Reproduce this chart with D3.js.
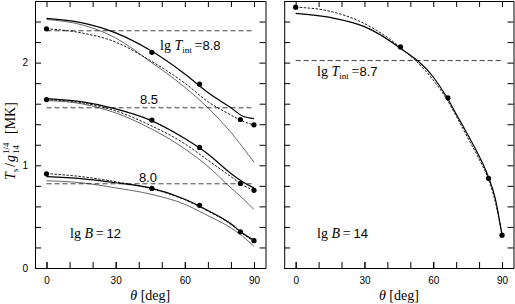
<!DOCTYPE html>
<html>
<head>
<meta charset="utf-8">
<script src="https://cdn.jsdelivr.net/npm/d3@7"></script>
<style>
body { margin: 0; background: #fff; }
svg { display: block; }
.tick text { font-family: "Liberation Sans", Arial, sans-serif; font-size: 10px; fill: #000; }
.tick line, .domain { stroke: #000; }
</style>
</head>
<body>
<svg width="515" height="304"></svg>
<script>
// dots (computed models)
const dotTheta = [0, 45.7, 66.4, 84.1, 90];
const dots88 = [2.33, 2.10, 1.79, 1.446, 1.394];
const dots85 = [1.64, 1.44, 1.174, 0.824, 0.756];
const dots80 = [0.917, 0.775, 0.61, 0.353, 0.266];
const dots87 = [2.54, 2.153, 1.657, 0.873, 0.32];

// curves, lg B = 12
const thetaL = [0, 15, 30, 45, 60, 70, 80, 85, 90];
const solid88 = [2.43, 2.39, 2.29, 2.12, 1.89, 1.71, 1.56, 1.48, 1.455];
const dash88 = [2.33, 2.29, 2.20, 2.02, 1.80, 1.62, 1.49, 1.43, 1.394];
const thin88 = [2.42, 2.37, 2.24, 2.01, 1.76, 1.56, 1.32, 1.18, 1.03];
const solid85 = [1.65, 1.62, 1.55, 1.44, 1.26, 1.11, 0.92, 0.84, 0.78];
const dash85 = [1.64, 1.61, 1.53, 1.39, 1.21, 1.05, 0.89, 0.81, 0.756];
const thin85 = [1.63, 1.60, 1.51, 1.36, 1.16, 0.99, 0.78, 0.68, 0.57];
const solid80 = [0.89, 0.87, 0.83, 0.78, 0.67, 0.56, 0.43, 0.34, 0.27];
const dash80 = [0.92, 0.89, 0.84, 0.775, 0.665, 0.555, 0.425, 0.335, 0.26];
const thin80 = [0.85, 0.83, 0.78, 0.72, 0.62, 0.51, 0.39, 0.31, 0.21];

// curves, lg B = 14
const thetaR = [0, 15, 30, 45, 60, 66, 70, 75, 80, 84, 87, 90];
const solid87 = [2.48, 2.44, 2.35, 2.15, 1.86, 1.66, 1.50, 1.30, 1.09, 0.89, 0.68, 0.32];
const dash87 = [2.54, 2.50, 2.38, 2.16, 1.83, 1.64, 1.48, 1.27, 1.06, 0.87, 0.65, 0.32];

// lg T_int levels
const tint12 = [2.31, 1.56, 0.82];
const tint14 = [2.02];

const xTicks = [0, 30, 60, 90];
const xMinor = [0, 10, 20, 30, 40, 50, 60, 70, 80, 90];
const yTicks = [0, 1, 2];
const yMinor = d3.range(0, 2.61, 0.2);

const svg = d3.select("svg");
const serif = "Liberation Serif, Times New Roman, serif";
const sans = "Liberation Sans, Arial, sans-serif";

const y = d3.scaleLinear().domain([0, 2.6]).range([268, 1]);

function panel(left, right, curves, dots, tints, labelB, tintLabel, tintText, showY) {
    var x = d3.scaleLinear().domain([-5, 95]).range([left, right]);
    var g = svg.append("g");

    g.append("g").attr("transform", "translate(0,268)")
        .call(d3.axisBottom(x).tickValues(xMinor).tickSizeInner(-6).tickSizeOuter(0).tickFormat(""));
    g.append("g").attr("transform", "translate(0,268)")
        .call(d3.axisBottom(x).tickValues(xTicks).tickSizeInner(-6).tickSizeOuter(0).tickPadding(9));
    g.append("g").attr("transform", "translate(0,1)")
        .call(d3.axisTop(x).tickValues(xMinor).tickSizeInner(-6).tickSizeOuter(0).tickFormat(""));
    g.append("g").attr("transform", "translate(" + left + ",0)")
        .call(d3.axisLeft(y).tickValues(yMinor).tickSizeInner(-6).tickSizeOuter(0).tickFormat(""));
    if (showY) {
        g.append("g").attr("transform", "translate(" + left + ",0)")
            .call(d3.axisLeft(y).tickValues(yTicks).tickSizeInner(0).tickSizeOuter(0).tickPadding(7).tickFormat(d3.format("d")))
            .select(".domain").remove();
    }
    g.append("g").attr("transform", "translate(" + right + ",0)")
        .call(d3.axisRight(y).tickValues(yMinor).tickSizeInner(-6).tickSizeOuter(0).tickFormat(""));

    // T_int reference lines
    g.selectAll(".tint").data(tints).enter().append("line")
        .attr("x1", x(0)).attr("x2", x(90))
        .attr("y1", d => y(d)).attr("y2", d => y(d))
        .attr("stroke", "#444").attr("stroke-width", 1)
        .attr("stroke-dasharray", "5,3");

    var line = d3.line().curve(d3.curveMonotoneX);
    curves.forEach(function(c) {
        g.append("path")
            .attr("d", line(c.th.map((t, i) => [x(t), y(c.v[i])])))
            .attr("fill", "none").attr("stroke", "#000")
            .attr("stroke-width", c.w)
            .attr("stroke-dasharray", c.dash || null);
    });

    dots.forEach(function(ds) {
        g.selectAll(null).data(ds).enter().append("circle")
            .attr("cx", (d, i) => x(dotTheta[i]))
            .attr("cy", d => y(d))
            .attr("r", 2.6).attr("fill", "#000");
    });

    // x label
    var xl = g.append("text").attr("x", x(45)).attr("y", 300)
        .attr("text-anchor", "middle").attr("font-family", serif).attr("font-size", 14);
    xl.append("tspan").attr("font-style", "italic").text("\u03b8");
    xl.append("tspan").text(" [deg]");

    // lg B label
    var bl = g.append("text").attr("x", labelB[0]).attr("y", labelB[1])
        .attr("font-family", serif).attr("font-size", 14);
    bl.append("tspan").text("lg ");
    bl.append("tspan").attr("font-style", "italic").text("B");
    bl.append("tspan").text("\u2009=\u2009");
    bl.append("tspan").attr("font-family", sans).attr("font-size", 13).text(labelB[2]);

    // T_int label
    var tl = g.append("text").attr("x", tintLabel[0]).attr("y", tintLabel[1])
        .attr("font-family", serif).attr("font-size", 14);
    tl.append("tspan").text("lg ");
    tl.append("tspan").attr("font-style", "italic").text("T");
    tl.append("tspan").attr("dy", 3).attr("font-size", 9).text("int");
    tl.append("tspan").attr("dy", -3).text("\u2009=");
    tl.append("tspan").attr("font-family", sans).attr("font-size", 13).text(tintText);

    return x;
}

var xL = panel(35, 265.5, [
    {th: thetaL, v: solid88, w: 1.2}, {th: thetaL, v: dash88, w: 0.9, dash: "2.5,1.5"}, {th: thetaL, v: thin88, w: 0.6},
    {th: thetaL, v: solid85, w: 1.2}, {th: thetaL, v: dash85, w: 0.9, dash: "2.5,1.5"}, {th: thetaL, v: thin85, w: 0.6},
    {th: thetaL, v: solid80, w: 1.2}, {th: thetaL, v: dash80, w: 0.9, dash: "2.5,1.5"}, {th: thetaL, v: thin80, w: 0.6}
], [dots88, dots85, dots80], tint12, [70, 238, "12"], [160, 50], "8.8", true);

var xR = panel(284.2, 513.5, [
    {th: thetaR, v: solid87, w: 1.2}, {th: thetaR, v: dash87, w: 0.9, dash: "2.5,1.5"}
], [dots87], tint14, [317, 238, "14"], [317, 76], "8.7", false);

// T_int labels for the lower groups
[["8.5", 140, 104], ["8.0", 139, 182]].forEach(function(t) {
    svg.append("text").attr("x", t[1]).attr("y", t[2])
        .attr("font-family", sans).attr("font-size", 13).text(t[0]);
});

// y label, laid out along the rotated baseline
var yl = svg.append("g").attr("transform", "translate(15,137) rotate(-90)")
    .attr("font-family", serif);
yl.append("text").attr("x", -43).attr("y", 0).attr("font-size", 14).attr("font-style", "italic").text("T");
yl.append("text").attr("x", -35).attr("y", 3).attr("font-size", 9).text("s");
yl.append("text").attr("x", -30).attr("y", 0).attr("font-size", 14).text("/");
yl.append("text").attr("x", -25).attr("y", 0).attr("font-size", 14).attr("font-style", "italic").text("g");
yl.append("text").attr("x", -17).attr("y", -6).attr("font-size", 9).text("1/4");
yl.append("text").attr("x", -17).attr("y", 4).attr("font-size", 9).text("14");
yl.append("text").attr("x", 3).attr("y", 0).attr("font-size", 14).text("[MK]");
</script>
</body>
</html>
